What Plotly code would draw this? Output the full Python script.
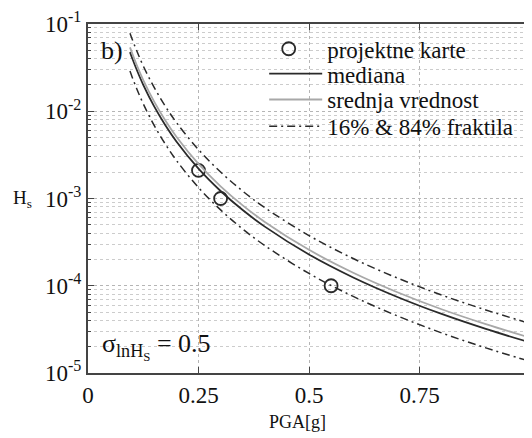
import plotly.graph_objects as go

# ---- data ----
pga = [0.095, 0.10, 0.11, 0.125, 0.15, 0.175, 0.20, 0.25, 0.30, 0.35, 0.40,
       0.50, 0.60, 0.70, 0.80, 0.90, 1.00]
median = [0.0476, 0.0406, 0.0301, 0.0201, 0.0113, 6.92e-3, 4.51e-3, 2.20e-3,
          1.22e-3, 7.37e-4, 4.76e-4, 2.28e-4, 1.245e-4, 7.44e-5, 4.75e-5,
          3.20e-5, 2.24e-5]
mean = [0.0539, 0.0460, 0.0341, 0.0228, 0.0128, 7.84e-3, 5.11e-3, 2.49e-3,
        1.38e-3, 8.35e-4, 5.39e-4, 2.58e-4, 1.41e-4, 8.43e-5, 5.38e-5,
        3.63e-5, 2.54e-5]
frac84 = [0.0785, 0.0669, 0.0496, 0.0331, 0.0186, 0.0114, 7.44e-3, 3.63e-3,
          2.01e-3, 1.215e-3, 7.85e-4, 3.76e-4, 2.05e-4, 1.227e-4, 7.83e-5,
          5.28e-5, 3.69e-5]
frac16 = [0.0289, 0.0246, 0.01826, 0.01219, 6.85e-3, 4.20e-3, 2.735e-3,
          1.334e-3, 7.40e-4, 4.47e-4, 2.89e-4, 1.383e-4, 7.55e-5, 4.51e-5,
          2.88e-5, 1.94e-5, 1.36e-5]
map_pga = [0.25, 0.30, 0.55]
map_hs = [2.1e-3, 1.0e-3, 1.0e-4]

x_ticks = [0, 0.25, 0.5, 0.75]
x_ticklabels = ["0", "0.25", "0.5", "0.75"]
y_ticks = [1e-5, 1e-4, 1e-3, 1e-2, 1e-1]
y_ticklabels = ["10<sup>-5</sup>", "10<sup>-4</sup>", "10<sup>-3</sup>",
                "10<sup>-2</sup>", "10<sup>-1</sup>"]
y_minor = [m * 10.0 ** e for e in range(-5, -1) for m in range(2, 10)]

FONT = "Liberation Serif"
DARK = "#2a2a2a"
DASHDOT = "8px,4px,2px,4px"

fig = go.Figure()
fig.add_trace(go.Scatter(x=map_pga, y=map_hs, mode="markers", name="projektne karte",
                         legend="legend",
                         marker=dict(symbol="circle-open", size=13, color=DARK,
                                     line=dict(width=1.8, color=DARK))))
fig.add_trace(go.Scatter(x=pga, y=median, mode="lines", name="mediana",
                         legend="legend2",
                         line=dict(color=DARK, width=1.8, shape="spline")))
fig.add_trace(go.Scatter(x=pga, y=mean, mode="lines", name="srednja vrednost",
                         legend="legend3",
                         line=dict(color="#a8a8a8", width=1.8, shape="spline")))
fig.add_trace(go.Scatter(x=pga, y=frac84, mode="lines", name="16% & 84% fraktila",
                         legend="legend4",
                         line=dict(color=DARK, width=1.5, dash=DASHDOT, shape="spline")))
fig.add_trace(go.Scatter(x=pga, y=frac16, mode="lines", name="16% & 84% fraktila",
                         showlegend=False,
                         line=dict(color=DARK, width=1.5, dash=DASHDOT, shape="spline")))

legfont = dict(family=FONT, size=23, color="#111")


def leg(x, y, iw):
    return dict(x=x, y=y, xanchor="left", yanchor="middle",
                bgcolor="rgba(255,255,255,0)", borderwidth=0,
                font=legfont, itemwidth=iw)


# page has an 8px body margin: figure is shrunk by 8px and margins offset by 8px
fig.update_layout(
    width=524, height=430,
    margin=dict(l=80, r=0, t=14, b=65),
    paper_bgcolor="white", plot_bgcolor="white",
    font=dict(family=FONT, color="#111", size=22),
    showlegend=True,
    legend=leg(0.367, 0.929, 67),
    legend2=leg(0.3986, 0.8575, 53),
    legend3=leg(0.3986, 0.7835, 53),
    legend4=leg(0.3986, 0.7066, 53),
    xaxis=dict(range=[0, 1], tickvals=x_ticks, ticktext=x_ticklabels,
               ticks="inside", ticklen=6, tickcolor="#444",
               showline=True, linecolor="#444", linewidth=2, mirror="ticks",
               showgrid=True, gridcolor="#b5b5b5", griddash="dot", gridwidth=1,
               zeroline=False, tickfont=dict(size=23, family=FONT),
               ticklabeloverflow="allow"),
    yaxis=dict(type="log", range=[-5, -1], tickvals=y_ticks, ticktext=y_ticklabels,
               ticks="inside", ticklen=6, tickcolor="#444",
               showline=True, linecolor="#444", linewidth=2, mirror="ticks",
               showgrid=True, gridcolor="#b5b5b5", griddash="dot", gridwidth=1,
               zeroline=False, tickfont=dict(size=23, family=FONT),
               ticklabeloverflow="allow",
               minor=dict(tickvals=y_minor, ticks="inside", ticklen=3,
                          tickcolor="#444", showgrid=True, gridcolor="#cccccc",
                          griddash="dot", gridwidth=1)),
)

fig.add_annotation(text="b)", xref="paper", yref="paper", x=0.025, y=0.972,
                   xanchor="left", yanchor="top", showarrow=False,
                   font=dict(size=26, family=FONT, color="#111"))
fig.add_annotation(text="σ<sub>lnH<sub>S</sub></sub> = 0.5", xref="paper", yref="paper",
                   x=0.027, y=0.02, xanchor="left", yanchor="bottom", showarrow=False,
                   font=dict(size=26, family=FONT, color="#111"))
fig.add_annotation(text="H<sub>s</sub>", xref="paper", yref="paper",
                   x=-0.149, y=0.5, xanchor="center", yanchor="middle", showarrow=False,
                   font=dict(size=19, family=FONT, color="#111"))
fig.add_annotation(text="PGA[g]", xref="paper", yref="paper",
                   x=0.473, y=-0.1396, xanchor="center", yanchor="middle", showarrow=False,
                   font=dict(size=18, family=FONT, color="#111"))

fig.write_html("out.html")
